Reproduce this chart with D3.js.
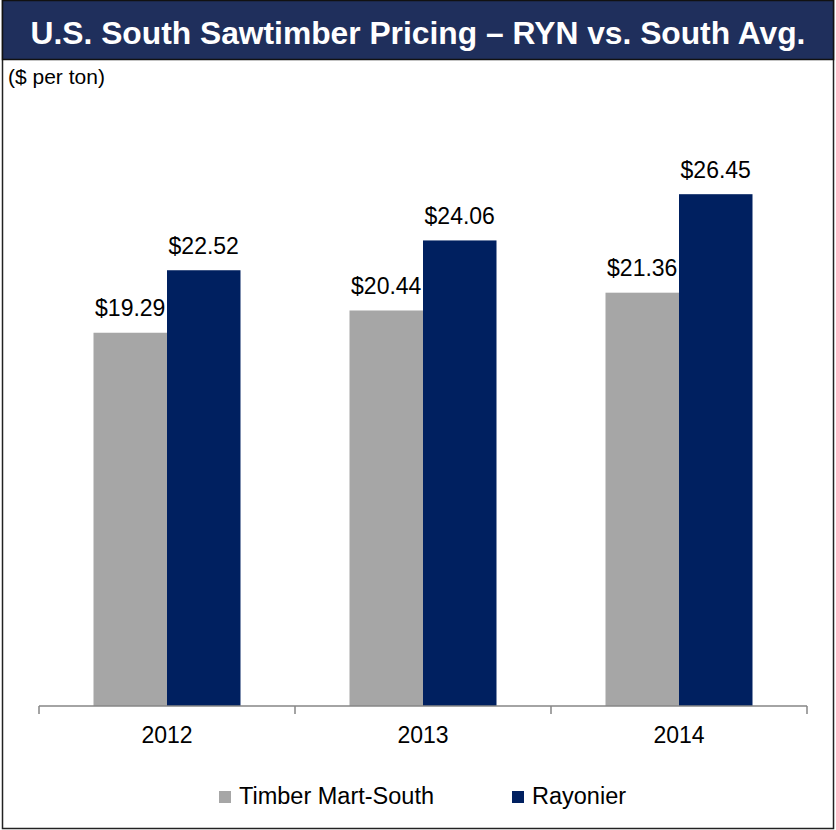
<!DOCTYPE html>
<html>
<head>
<meta charset="utf-8">
<script src="https://cdn.jsdelivr.net/npm/d3@7"></script>
<style>
  body { margin: 0; background: #fff; }
  svg { display: block; font-family: "Liberation Sans", Arial, sans-serif; }
</style>
</head>
<body>
<div id="chart"></div>
<script>
// chart values
const years = ["2012", "2013", "2014"];
const seriesNames = ["Timber Mart-South", "Rayonier"];
const martSouth = [19.29, 20.44, 21.36];
const rayonier = [22.52, 24.06, 26.45];
const colors = ["#a6a6a6", "#002060"];

const W = 836, H = 830;

let svg = d3.select("#chart").append("svg")
    .attr("width", W)
    .attr("height", H);

// outer frame
svg.append("rect")
    .attr("x", 2.5).attr("y", 0.5)
    .attr("width", W - 5).attr("height", H - 2)
    .attr("fill", "#fff")
    .attr("stroke", "#222")
    .attr("stroke-width", 1.5);

// title bar
svg.append("rect")
    .attr("x", 2.5).attr("y", 0.5)
    .attr("width", W - 5).attr("height", 59)
    .attr("fill", "#1f2f5c")
    .attr("stroke", "#111")
    .attr("stroke-width", 1.5);

let title = svg.append("text")
    .attr("x", W / 2)
    .attr("y", 44)
    .attr("text-anchor", "middle")
    .attr("fill", "#fff")
    .attr("font-weight", "bold")
    .attr("font-family", "'Liberation Sans Narrow', 'Liberation Sans', Arial, sans-serif")
    .attr("font-size", 36)
    .text("U.S. South Sawtimber Pricing \u2013 RYN vs. South Avg.");

// fit title to the bar width seen in the reference
let tw = title.node().getComputedTextLength();
if (tw > 775) {
    title.attr("font-size", 36 * 775 / tw);
}

svg.append("text")
    .attr("x", 8)
    .attr("y", 84)
    .attr("font-size", 21)
    .attr("fill", "#000")
    .text("($ per ton)");

// scales
let x0 = d3.scaleBand()
    .domain(years)
    .range([39, 807])
    .paddingInner(0)
    .paddingOuter(0);

let groupW = 147;
let x1 = d3.scaleBand()
    .domain(seriesNames)
    .range([(x0.bandwidth() - groupW) / 2, (x0.bandwidth() + groupW) / 2])
    .padding(0);

let y = d3.scaleLinear()
    .domain([0, 30])
    .range([706, 125.5]);

let data = years.map((yr, i) => ({
    year: yr,
    values: [
        { name: seriesNames[0], value: martSouth[i], color: colors[0] },
        { name: seriesNames[1], value: rayonier[i], color: colors[1] }
    ]
}));

let groups = svg.selectAll(".group")
    .data(data)
    .enter()
    .append("g")
    .attr("class", "group")
    .attr("transform", d => `translate(${x0(d.year)},0)`);

groups.selectAll("rect")
    .data(d => d.values)
    .enter()
    .append("rect")
    .attr("x", d => x1(d.name))
    .attr("width", x1.bandwidth())
    .attr("y", d => y(d.value))
    .attr("height", d => y(0) - y(d.value))
    .attr("fill", d => d.color);

groups.selectAll(".label")
    .data(d => d.values)
    .enter()
    .append("text")
    .attr("class", "label")
    .attr("x", d => x1(d.name) + x1.bandwidth() / 2)
    .attr("y", d => y(d.value) - 16.5)
    .attr("text-anchor", "middle")
    .attr("font-size", 23)
    .attr("fill", "#000")
    .text(d => "$" + d.value.toFixed(2));

// x axis
let xAxis = d3.axisBottom(x0).tickSize(0).tickPadding(0);
let axisG = svg.append("g")
    .attr("transform", "translate(0,706)")
    .call(xAxis);
axisG.select(".domain").remove();
axisG.selectAll("text")
    .attr("y", 37)
    .attr("dy", 0)
    .attr("font-size", 23)
    .attr("font-family", "Liberation Sans, Arial, sans-serif")
    .attr("fill", "#000");

axisG.append("line")
    .attr("x1", 39).attr("x2", 807)
    .attr("stroke", "#868686")
    .attr("stroke-width", 1.5);

let bounds = [39].concat(years.map(d => x0(d) + x0.bandwidth()));
axisG.selectAll(".sep")
    .data(bounds)
    .enter()
    .append("line")
    .attr("class", "sep")
    .attr("x1", d => d).attr("x2", d => d)
    .attr("y1", 0).attr("y2", 8)
    .attr("stroke", "#868686")
    .attr("stroke-width", 1.5);

// legend
let legendX = [219, 512];
let legend = svg.selectAll(".legend")
    .data(seriesNames)
    .enter()
    .append("g")
    .attr("class", "legend")
    .attr("transform", (d, i) => `translate(${legendX[i]},791)`);

legend.append("rect")
    .attr("width", 12)
    .attr("height", 12)
    .attr("fill", (d, i) => colors[i]);

legend.append("text")
    .attr("x", 20)
    .attr("y", 13)
    .attr("font-size", 23.5)
    .attr("fill", "#000")
    .text(d => d);
</script>
</body>
</html>
